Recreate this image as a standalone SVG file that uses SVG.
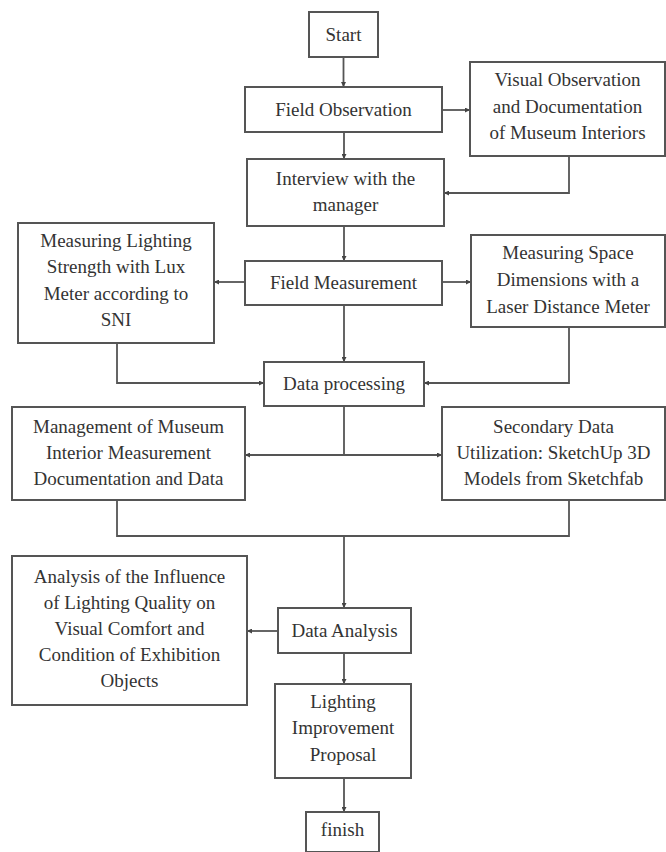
<svg xmlns="http://www.w3.org/2000/svg" width="666" height="852" viewBox="0 0 666 852">
<style>
.box{fill:#fff;stroke:#555;stroke-width:2}
.t{font-family:"Liberation Serif","Times New Roman",serif;font-size:19px;fill:#333;text-anchor:middle}
.c{fill:none;stroke:#555;stroke-width:1.8}
</style>
<defs>
<marker id="ah" viewBox="0 0 6 6" refX="6" refY="3" markerWidth="5" markerHeight="5" orient="auto" markerUnits="userSpaceOnUse">
<path d="M0,0 L6,3 L0,6 z" fill="#444"/>
</marker>
</defs>
<rect width="666" height="852" fill="#fff"/>
<g id="connectors">
<path class="c" d="M343.5,57 V87" marker-end="url(#ah)"/>
<path class="c" d="M442,110 H470" marker-end="url(#ah)"/>
<path class="c" d="M344,132 V159" marker-end="url(#ah)"/>
<path class="c" d="M569,156 V193 H444" marker-end="url(#ah)"/>
<path class="c" d="M344,226 V261" marker-end="url(#ah)"/>
<path class="c" d="M245,282 H214" marker-end="url(#ah)"/>
<path class="c" d="M442,282 H471" marker-end="url(#ah)"/>
<path class="c" d="M117,343 V383 H264" marker-end="url(#ah)"/>
<path class="c" d="M569,327 V383 H424" marker-end="url(#ah)"/>
<path class="c" d="M344,305 V362" marker-end="url(#ah)"/>
<path class="c" d="M344,406 V455"/>
<path class="c" d="M344,455 H245" marker-end="url(#ah)"/>
<path class="c" d="M344,455 H442" marker-end="url(#ah)"/>
<path class="c" d="M117,500 V536 H569 V500"/>
<path class="c" d="M344,536 V608" marker-end="url(#ah)"/>
<path class="c" d="M278,631 H247" marker-end="url(#ah)"/>
<path class="c" d="M344,653 V684" marker-end="url(#ah)"/>
<path class="c" d="M344,778 V812" marker-end="url(#ah)"/>
</g>
<g id="start"><rect class="box" x="309" y="12" width="69" height="45"/><text class="t" x="343.5" y="41">Start</text></g>
<g id="field-observation"><rect class="box" x="245" y="87" width="197" height="45"/><text class="t" x="343.5" y="116">Field Observation</text></g>
<g id="visual-observation"><rect class="box" x="470" y="62" width="195" height="94"/>
<text class="t" x="567.5" y="86">Visual Observation</text><text class="t" x="567.5" y="113">and Documentation</text><text class="t" x="567.5" y="139">of Museum Interiors</text></g>
<g id="interview"><rect class="box" x="247" y="159" width="197" height="67"/>
<text class="t" x="345.5" y="185">Interview with the</text><text class="t" x="345.5" y="211">manager</text></g>
<g id="measuring-lighting"><rect class="box" x="18" y="223" width="196" height="120"/>
<text class="t" x="116" y="247">Measuring Lighting</text><text class="t" x="116" y="273">Strength with Lux</text><text class="t" x="116" y="300">Meter according to</text><text class="t" x="116" y="326">SNI</text></g>
<g id="field-measurement"><rect class="box" x="245" y="261" width="197" height="44"/><text class="t" x="343.5" y="289">Field Measurement</text></g>
<g id="measuring-space"><rect class="box" x="471" y="235" width="194" height="92"/>
<text class="t" x="568" y="259">Measuring Space</text><text class="t" x="568" y="286">Dimensions with a</text><text class="t" x="568" y="313">Laser Distance Meter</text></g>
<g id="data-processing"><rect class="box" x="264" y="362" width="160" height="44"/><text class="t" x="344" y="390">Data processing</text></g>
<g id="management"><rect class="box" x="12" y="407" width="233" height="93"/>
<text class="t" x="128.5" y="433">Management of Museum</text><text class="t" x="128.5" y="459">Interior Measurement</text><text class="t" x="128.5" y="485">Documentation and Data</text></g>
<g id="secondary-data"><rect class="box" x="442" y="407" width="223" height="93"/>
<text class="t" x="553.5" y="433">Secondary Data</text><text class="t" x="553.5" y="459">Utilization: SketchUp 3D</text><text class="t" x="553.5" y="485">Models from Sketchfab</text></g>
<g id="analysis-influence"><rect class="box" x="12" y="556" width="235" height="149"/>
<text class="t" x="129.5" y="583">Analysis of the Influence</text><text class="t" x="129.5" y="609">of Lighting Quality on</text><text class="t" x="129.5" y="635">Visual Comfort and</text><text class="t" x="129.5" y="661">Condition of Exhibition</text><text class="t" x="129.5" y="687">Objects</text></g>
<g id="data-analysis"><rect class="box" x="278" y="608" width="133" height="45"/><text class="t" x="344.5" y="637">Data Analysis</text></g>
<g id="lighting-improvement"><rect class="box" x="275" y="684" width="136" height="94"/>
<text class="t" x="343" y="708">Lighting</text><text class="t" x="343" y="734">Improvement</text><text class="t" x="343" y="761">Proposal</text></g>
<g id="finish"><rect class="box" x="306" y="812" width="73" height="40"/><text class="t" x="342.5" y="836">finish</text></g>
</svg>
